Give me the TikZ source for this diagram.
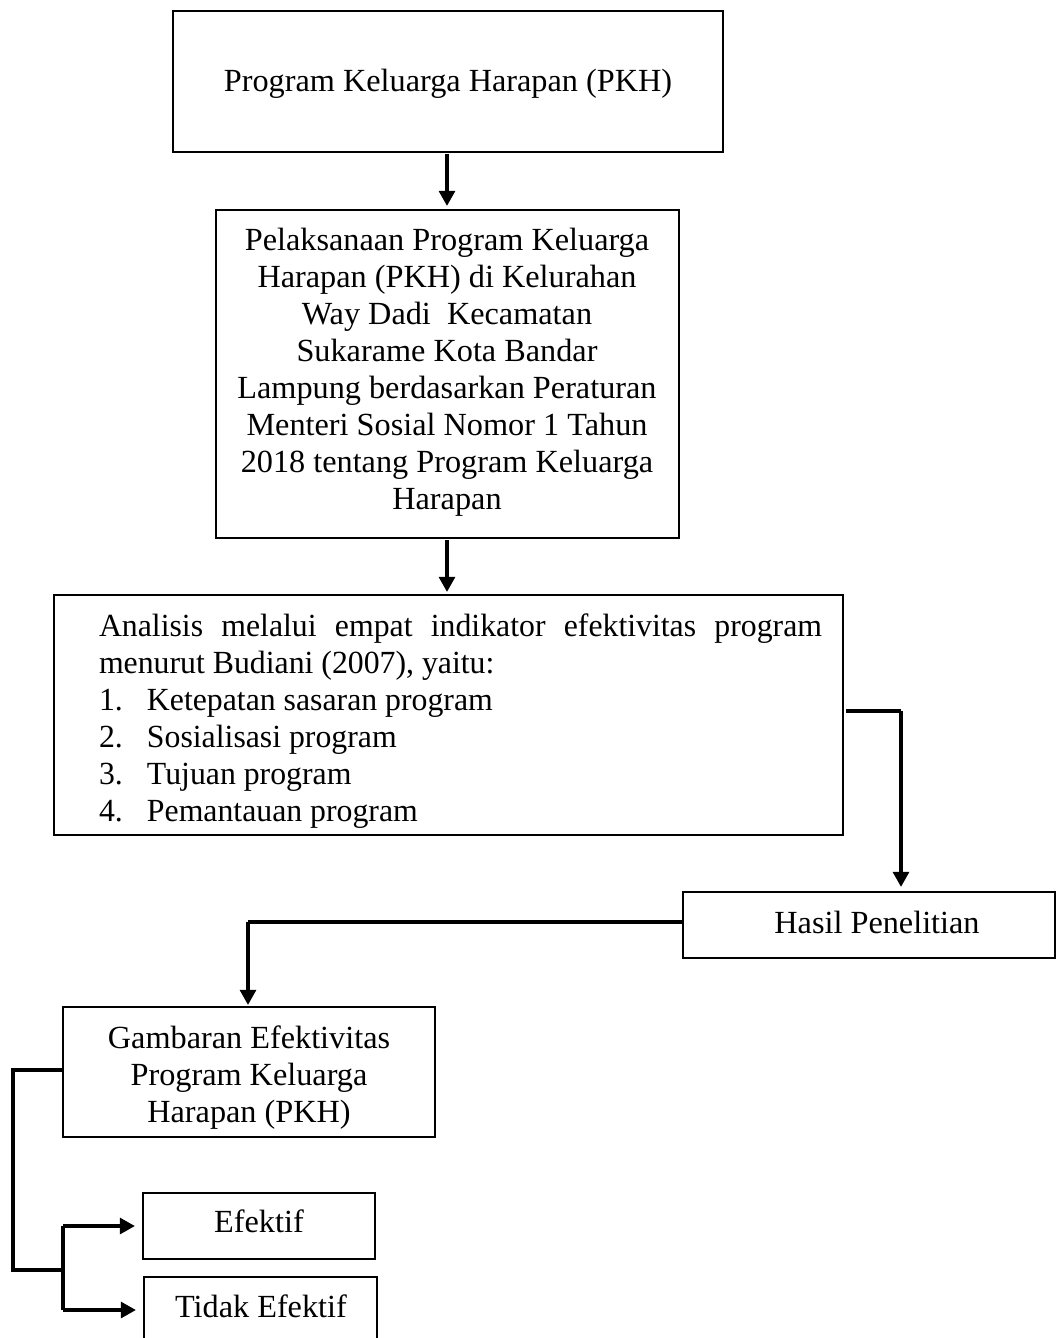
\documentclass[tikz,border=0pt]{standalone}
\usepackage{fontspec}
\setmainfont{Liberation Serif}
\newfontfamily\narrowserif{Liberation Serif}[FakeStretch=0.985]
\usetikzlibrary{arrows.meta}
\newlength\pxu
\setlength\pxu{0.372pt}
\tikzset{
  box/.style={draw, line width=0.5pt, inner sep=0pt, outer sep=0pt},
  txt/.style={inner sep=0pt, align=center, font=\fontsize{12pt}{13.76pt}\selectfont},
  conn/.style={line width=1.5pt},
  arr/.style={line width=1.5pt, -{Triangle[length=5.6pt,width=5.8pt]}},
}
\begin{document}
\begin{tikzpicture}[x=0.372pt, y=-0.372pt]
\useasboundingbox (0,0) rectangle (1057,1338);
% boxes
\node[box, minimum width=550*\pxu, minimum height=141*\pxu] (b1) at (448,81.5) {};
\node[txt] (t1) at (448,83.5) {Program Keluarga Harapan (PKH)};
\node[box, minimum width=463*\pxu, minimum height=328*\pxu] (b2) at (447.5,374) {};
\node[txt] (t2) at (447,372) {Pelaksanaan Program Keluarga\\Harapan (PKH) di Kelurahan\\Way Dadi\ \ Kecamatan\\Sukarame Kota Bandar\\Lampung berdasarkan Peraturan\\Menteri Sosial Nomor 1 Tahun\\2018 tentang Program Keluarga\\Harapan};
\node[box, minimum width=789*\pxu, minimum height=240*\pxu] (b3) at (448.5,715) {};
\node[txt, text width=723*\pxu, align=flush left, font=\narrowserif\fontsize{12pt}{13.76pt}\selectfont] (t3) at (460.5,721) {%
\makebox[723\pxu]{Analisis\hfill melalui\hfill empat\hfill indikator\hfill efektivitas\hfill program}\\
menurut Budiani (2007), yaitu:\\
\makebox[48\pxu][l]{1.}Ketepatan sasaran program\\
\makebox[48\pxu][l]{2.}Sosialisasi program\\
\makebox[48\pxu][l]{3.}Tujuan program\\
\makebox[48\pxu][l]{4.}Pemantauan program};
\node[box, minimum width=372*\pxu, minimum height=66*\pxu] (b4) at (869,925) {};
\node[txt] (t4) at (877,922) {Hasil Penelitian};
\node[box, minimum width=372*\pxu, minimum height=130*\pxu] (b5) at (249,1072) {};
\node[txt] (t5) at (249,1078) {Gambaran Efektivitas\\Program Keluarga\\Harapan (PKH)};
\node[box, minimum width=232*\pxu, minimum height=66*\pxu] (b6) at (259,1226) {};
\node[txt] (t6) at (259,1221) {Efektif};
\node[box, minimum width=233*\pxu, minimum height=66*\pxu] (b7) at (260.5,1310) {};
\node[txt] (t7) at (261,1306) {Tidak Efektif};
% helper coordinates
\coordinate (c1) at (901,711);
\coordinate (c2) at (248,922);
\coordinate (c3) at (13,1070);
\coordinate (c4) at (13,1270);
\coordinate (c5) at (63,1270);
\coordinate (c6) at (63,1226);
\coordinate (c7) at (63,1310);
% connectors
\draw[arr, shorten <=2*\pxu, shorten >=4*\pxu] (b1.south -| 447,0) -- (b2.north -| 447,0);
\draw[arr, shorten <=2*\pxu, shorten >=3*\pxu] (b2.south -| 447,0) -- (b3.north -| 447,0);
\draw[conn, shorten <=3*\pxu] (b3.east |- c1) -- (c1);
\draw[arr, shorten >=5*\pxu] (c1) -- (c1 |- b4.north);
\draw[conn] (b4.west |- c2) -- (c2);
\draw[arr, shorten >=2*\pxu] (c2) -- (c2 |- b5.north);
\draw[conn] (b5.west |- c3) -- (c3) -- (c4) -- (c5);
\draw[conn] (c6) -- (c7);
\draw[arr, shorten >=8*\pxu] (c6) -- (b6.west |- c6);
\draw[arr, shorten >=8*\pxu] (c7) -- (b7.west |- c7);
\end{tikzpicture}
\end{document}
